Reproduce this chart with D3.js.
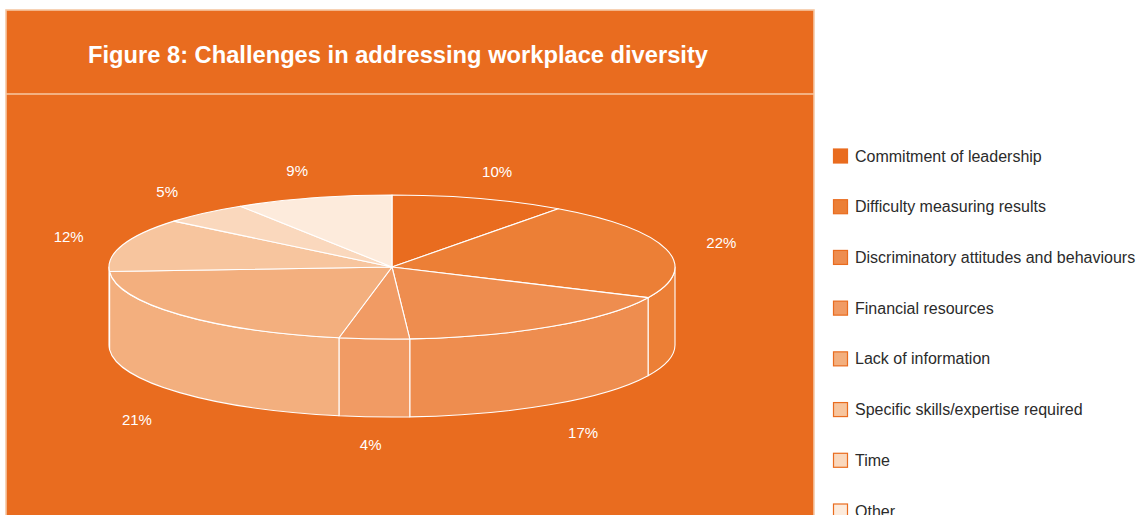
<!DOCTYPE html>
<html>
<head>
<meta charset="utf-8">
<script src="https://cdn.jsdelivr.net/npm/d3@7/dist/d3.min.js"></script>
<style>
  html, body { margin: 0; padding: 0; background: #ffffff; }
  svg { display: block; }
</style>
</head>
<body>
<svg id="chart" width="1136" height="515"></svg>
<script>
// Survey answers: share of respondents per challenge (percent)
const categories = [
  "Commitment of leadership",
  "Difficulty measuring results",
  "Discriminatory attitudes and behaviours",
  "Financial resources",
  "Lack of information",
  "Specific skills/expertise required",
  "Time",
  "Other"
];
const values = [10, 22, 17, 4, 21, 12, 5, 9];
const sliceColors = ["#E96C1F", "#EC7F36", "#EE8D4F", "#F19B64", "#F3AF7E", "#F7C59E", "#FAD8BD", "#FDEBDC"];
const titleText = "Figure 8: Challenges in addressing workplace diversity";

const W = 1136, H = 515;
const svg = d3.select("#chart");
const ORANGE = "#E96C1F";
const PEACH = "#F6C8A4";

// ---- panel ----
const panel = { x: 6, y: 10, w: 808, h: 520 };
svg.append("rect")
  .attr("x", panel.x).attr("y", panel.y)
  .attr("width", panel.w).attr("height", panel.h)
  .attr("fill", ORANGE)
  .attr("stroke", PEACH).attr("stroke-width", 1.6);
svg.append("line")
  .attr("x1", panel.x).attr("x2", panel.x + panel.w)
  .attr("y1", 94).attr("y2", 94)
  .attr("stroke", PEACH).attr("stroke-width", 1.6);

svg.append("text")
  .attr("x", 398).attr("y", 63)
  .attr("text-anchor", "middle")
  .attr("textLength", 620)
  .attr("lengthAdjust", "spacingAndGlyphs")
  .style("font-family", "'Liberation Sans Narrow', 'Liberation Sans', Arial, sans-serif")
  .style("font-weight", "bold")
  .style("font-size", "23px")
  .attr("fill", "#ffffff")
  .text(titleText);

// ---- 3D pie geometry ----
const cx = 392, cy = 267, rx = 283, ry = 72, depth = 78;
const pie = d3.pie().sort(null).value(d => d.value);
const arcs = pie(categories.map((c, i) => ({ name: c, value: values[i], color: sliceColors[i] })));

// angle 0 = 12 o'clock, growing clockwise
const topPt = a => [cx + rx * Math.sin(a), cy - ry * Math.cos(a)];
const botPt = a => [cx + rx * Math.sin(a), cy - ry * Math.cos(a) + depth];

function topPath(a0, a1) {
  const p0 = topPt(a0), p1 = topPt(a1);
  const large = (a1 - a0) > Math.PI ? 1 : 0;
  return `M${cx},${cy}L${p0[0]},${p0[1]}A${rx},${ry} 0 ${large} 1 ${p1[0]},${p1[1]}Z`;
}
function wallPath(a0, a1) {
  const t0 = topPt(a0), t1 = topPt(a1), b0 = botPt(a0), b1 = botPt(a1);
  const large = (a1 - a0) > Math.PI ? 1 : 0;
  return `M${t0[0]},${t0[1]}A${rx},${ry} 0 ${large} 1 ${t1[0]},${t1[1]}` +
         `L${b1[0]},${b1[1]}A${rx},${ry} 0 ${large} 0 ${b0[0]},${b0[1]}Z`;
}

const g = svg.append("g");

// front walls: only the part of the rim facing the viewer (90°..270°)
const frontLo = Math.PI / 2, frontHi = 3 * Math.PI / 2;
arcs.forEach(d => {
  const s = Math.max(d.startAngle, frontLo), e = Math.min(d.endAngle, frontHi);
  if (e > s) {
    g.append("path")
      .attr("d", wallPath(s, e))
      .attr("fill", d.data.color)
      .attr("stroke", "#ffffff").attr("stroke-width", 1.1)
      .attr("stroke-linejoin", "round");
  }
});

// top faces
g.selectAll("path.top")
  .data(arcs)
  .join("path")
  .attr("class", "top")
  .attr("d", d => topPath(d.startAngle, d.endAngle))
  .attr("fill", d => d.data.color)
  .attr("stroke", "#ffffff").attr("stroke-width", 1.1)
  .attr("stroke-linejoin", "round");

// percentage labels around the pie
function labelPos(d) {
  const a = (d.startAngle + d.endAngle) / 2;
  const s = Math.sin(a), c = Math.cos(a);
  const x = cx + 340 * s;
  let y;
  if (c >= 0 || Math.abs(s) > 0.9) {
    // back half and rim sides: level with the top face
    y = cy - 100 * Math.abs(c);
  } else {
    // front half: below the rim
    y = cy - 75 * c + 103;
  }
  return [x, y];
}
g.selectAll("text.pct")
  .data(arcs)
  .join("text")
  .attr("class", "pct")
  .attr("x", d => labelPos(d)[0])
  .attr("y", d => labelPos(d)[1])
  .attr("text-anchor", "middle")
  .attr("dominant-baseline", "central")
  .style("font-family", "'Liberation Sans', Arial, sans-serif")
  .style("font-size", "15px")
  .attr("fill", "#ffffff")
  .text(d => d.data.value + "%");

// ---- legend ----
const legendY = d3.scalePoint().domain(categories).range([156, 511]);
const leg = svg.append("g").selectAll("g")
  .data(arcs)
  .join("g")
  .attr("transform", d => `translate(833,${legendY(d.data.name)})`);
leg.append("rect")
  .attr("x", 0.5).attr("y", -7)
  .attr("width", 14).attr("height", 14)
  .attr("fill", d => d.data.color)
  .attr("stroke", ORANGE).attr("stroke-width", 1.2);
leg.append("text")
  .attr("x", 22).attr("y", 0)
  .attr("dominant-baseline", "central")
  .style("font-family", "'Liberation Sans', Arial, sans-serif")
  .style("font-size", "16px")
  .attr("fill", "#2b2b2b")
  .text(d => d.data.name);
</script>
</body>
</html>
